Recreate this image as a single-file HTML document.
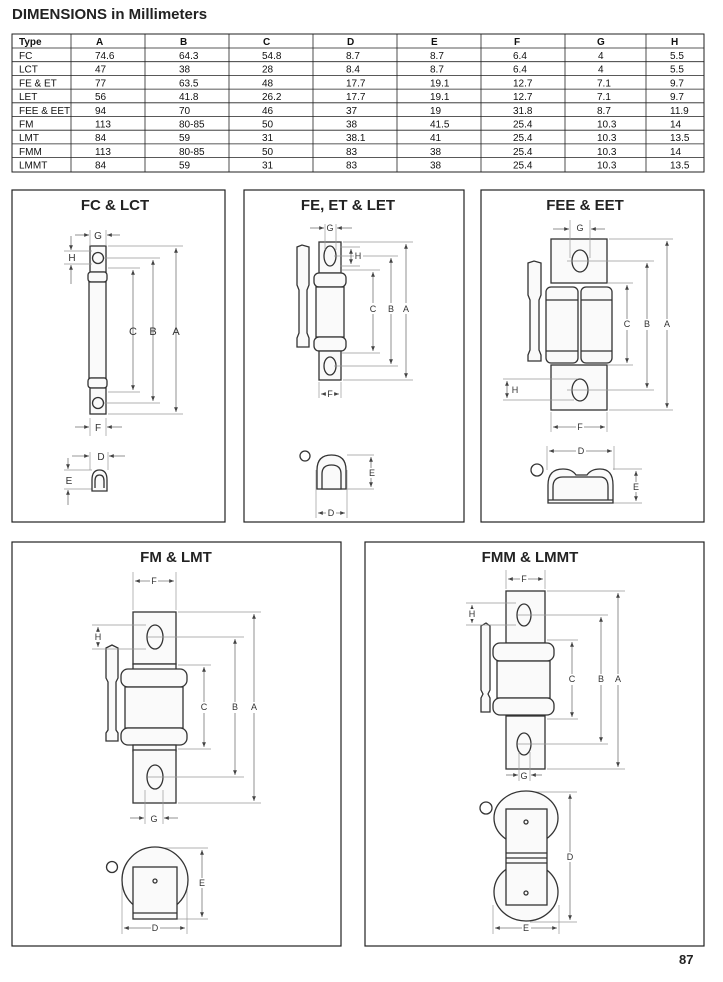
<!DOCTYPE html>
<html><head><meta charset="utf-8"><style>
html,body{margin:0;padding:0;background:#fff;}
svg{display:block;}
text{font-family:"Liberation Sans",sans-serif;}
.t{font-size:10px;fill:#111;}
.d{stroke:#777;stroke-width:0.8;fill:none;}
.e{stroke:#999;stroke-width:0.7;fill:none;}
.o{stroke:#333;stroke-width:1.3;fill:#fafafa;}
.o2{stroke:#333;stroke-width:1.3;fill:none;}
.l{font-size:9px;fill:#333;text-anchor:middle;}
.h{font-size:15px;font-weight:bold;fill:#222;text-anchor:middle;}
.box{stroke:#222;stroke-width:1.2;fill:none;}
.g{stroke:#222;stroke-width:0.8;}
</style></head><body>
<svg width="723" height="982" viewBox="0 0 723 982" xmlns="http://www.w3.org/2000/svg">
<defs>
<marker id="a" viewBox="0 0 10 10" refX="10" refY="5" markerWidth="6" markerHeight="6" orient="auto-start-reverse"><path d="M0,1 L10,5 L0,9z" fill="#444"/></marker>
</defs>
<text x="12" y="19" style="font-size:15px;font-weight:bold;fill:#222">DIMENSIONS in Millimeters</text>
<!-- table -->
<g>
<rect x="12" y="34" width="692" height="138" fill="none" stroke="#222" stroke-width="1"/>
<g class="g">
<line x1="71" y1="34" x2="71" y2="172"/><line x1="145" y1="34" x2="145" y2="172"/><line x1="229" y1="34" x2="229" y2="172"/><line x1="313" y1="34" x2="313" y2="172"/><line x1="397" y1="34" x2="397" y2="172"/><line x1="481" y1="34" x2="481" y2="172"/><line x1="565" y1="34" x2="565" y2="172"/><line x1="646" y1="34" x2="646" y2="172"/>
<line x1="12" y1="48" x2="704" y2="48"/><line x1="12" y1="61.7" x2="704" y2="61.7"/><line x1="12" y1="75.4" x2="704" y2="75.4"/><line x1="12" y1="89.1" x2="704" y2="89.1"/><line x1="12" y1="102.8" x2="704" y2="102.8"/><line x1="12" y1="116.5" x2="704" y2="116.5"/><line x1="12" y1="130.2" x2="704" y2="130.2"/><line x1="12" y1="143.9" x2="704" y2="143.9"/><line x1="12" y1="157.6" x2="704" y2="157.6"/>
</g>
<g class="t">
<text x="19" y="45" font-weight="bold">Type</text><text x="96" y="45" font-weight="bold">A</text><text x="180" y="45" font-weight="bold">B</text><text x="263" y="45" font-weight="bold">C</text><text x="347" y="45" font-weight="bold">D</text><text x="431" y="45" font-weight="bold">E</text><text x="514" y="45" font-weight="bold">F</text><text x="597" y="45" font-weight="bold">G</text><text x="671" y="45" font-weight="bold">H</text>
</g>
<g class="t" id="rows">
<text y="59"><tspan x="19">FC</tspan><tspan x="95">74.6</tspan><tspan x="179">64.3</tspan><tspan x="262">54.8</tspan><tspan x="346">8.7</tspan><tspan x="430">8.7</tspan><tspan x="513">6.4</tspan><tspan x="598">4</tspan><tspan x="670">5.5</tspan></text>
<text y="72.7"><tspan x="19">LCT</tspan><tspan x="95">47</tspan><tspan x="179">38</tspan><tspan x="262">28</tspan><tspan x="346">8.4</tspan><tspan x="430">8.7</tspan><tspan x="513">6.4</tspan><tspan x="598">4</tspan><tspan x="670">5.5</tspan></text>
<text y="86.4"><tspan x="19">FE &amp; ET</tspan><tspan x="95">77</tspan><tspan x="179">63.5</tspan><tspan x="262">48</tspan><tspan x="346">17.7</tspan><tspan x="430">19.1</tspan><tspan x="513">12.7</tspan><tspan x="597">7.1</tspan><tspan x="670">9.7</tspan></text>
<text y="100.1"><tspan x="19">LET</tspan><tspan x="95">56</tspan><tspan x="179">41.8</tspan><tspan x="262">26.2</tspan><tspan x="346">17.7</tspan><tspan x="430">19.1</tspan><tspan x="513">12.7</tspan><tspan x="597">7.1</tspan><tspan x="670">9.7</tspan></text>
<text y="113.8"><tspan x="19">FEE &amp; EET</tspan><tspan x="95">94</tspan><tspan x="179">70</tspan><tspan x="262">46</tspan><tspan x="346">37</tspan><tspan x="430">19</tspan><tspan x="513">31.8</tspan><tspan x="597">8.7</tspan><tspan x="670">11.9</tspan></text>
<text y="127.5"><tspan x="19">FM</tspan><tspan x="95">113</tspan><tspan x="179">80-85</tspan><tspan x="262">50</tspan><tspan x="346">38</tspan><tspan x="430">41.5</tspan><tspan x="513">25.4</tspan><tspan x="597">10.3</tspan><tspan x="670">14</tspan></text>
<text y="141.2"><tspan x="19">LMT</tspan><tspan x="95">84</tspan><tspan x="179">59</tspan><tspan x="262">31</tspan><tspan x="346">38.1</tspan><tspan x="430">41</tspan><tspan x="513">25.4</tspan><tspan x="597">10.3</tspan><tspan x="670">13.5</tspan></text>
<text y="154.9"><tspan x="19">FMM</tspan><tspan x="95">113</tspan><tspan x="179">80-85</tspan><tspan x="262">50</tspan><tspan x="346">83</tspan><tspan x="430">38</tspan><tspan x="513">25.4</tspan><tspan x="597">10.3</tspan><tspan x="670">14</tspan></text>
<text y="168.6"><tspan x="19">LMMT</tspan><tspan x="95">84</tspan><tspan x="179">59</tspan><tspan x="262">31</tspan><tspan x="346">83</tspan><tspan x="430">38</tspan><tspan x="513">25.4</tspan><tspan x="597">10.3</tspan><tspan x="670">13.5</tspan></text>
</g>
</g>

<!-- panel boxes -->
<rect class="box" x="12" y="190" width="213" height="332"/>
<rect class="box" x="244" y="190" width="220" height="332"/>
<rect class="box" x="481" y="190" width="223" height="332"/>
<rect class="box" x="12" y="542" width="329" height="404"/>
<rect class="box" x="365" y="542" width="339" height="404"/>
<text class="h" x="115" y="210">FC &amp; LCT</text>
<text class="h" x="348" y="210">FE, ET &amp; LET</text>
<text class="h" x="585" y="210">FEE &amp; EET</text>
<text class="h" x="176" y="562">FM &amp; LMT</text>
<text class="h" x="530" y="562">FMM &amp; LMMT</text>

<!-- FC & LCT -->
<g>
<rect class="o" x="90" y="246" width="16" height="26"/>
<circle class="o2" cx="98" cy="258" r="5.5"/>
<rect class="o" x="88" y="272" width="19" height="10" rx="3"/>
<rect class="o" x="89" y="282" width="17" height="96"/>
<rect class="o" x="88" y="378" width="19" height="10" rx="3"/>
<rect class="o" x="90" y="388" width="16" height="26"/>
<circle class="o2" cx="98" cy="403" r="5.5"/>
<g class="e"><line x1="108" y1="246" x2="183" y2="246"/><line x1="104" y1="258" x2="160" y2="258"/><line x1="108" y1="268" x2="140" y2="268"/><line x1="108" y1="392" x2="140" y2="392"/><line x1="104" y1="403" x2="160" y2="403"/><line x1="108" y1="414" x2="183" y2="414"/>
<line x1="90" y1="230" x2="90" y2="246"/><line x1="106" y1="230" x2="106" y2="246"/><line x1="64" y1="251" x2="92" y2="251"/><line x1="64" y1="264" x2="92" y2="264"/>
<line x1="90" y1="418" x2="90" y2="436"/><line x1="106" y1="418" x2="106" y2="436"/>
<line x1="90" y1="452" x2="90" y2="470"/><line x1="108" y1="452" x2="108" y2="470"/><line x1="64" y1="470" x2="92" y2="470"/><line x1="64" y1="489" x2="92" y2="489"/></g>
<g class="d"><line x1="176" y1="248" x2="176" y2="412" marker-start="url(#a)" marker-end="url(#a)"/>
<line x1="153" y1="260" x2="153" y2="401" marker-start="url(#a)" marker-end="url(#a)"/>
<line x1="133" y1="270" x2="133" y2="390" marker-start="url(#a)" marker-end="url(#a)"/>
<line x1="75" y1="235" x2="89" y2="235" marker-end="url(#a)"/><line x1="120" y1="235" x2="107" y2="235" marker-end="url(#a)"/>
<line x1="71" y1="236" x2="71" y2="250" marker-end="url(#a)"/><line x1="71" y1="284" x2="71" y2="265" marker-end="url(#a)"/>
<line x1="75" y1="427" x2="89" y2="427" marker-end="url(#a)"/><line x1="122" y1="427" x2="107" y2="427" marker-end="url(#a)"/>
<line x1="72" y1="456" x2="89" y2="456" marker-end="url(#a)"/><line x1="125" y1="456" x2="109" y2="456" marker-end="url(#a)"/>
<line x1="68" y1="458" x2="68" y2="469" marker-end="url(#a)"/><line x1="68" y1="505" x2="68" y2="490" marker-end="url(#a)"/></g>
<text class="l" x="98" y="239" style="font-size:10px">G</text>
<text class="l" x="72" y="261" style="font-size:10px">H</text>
<text class="l" x="133" y="335" style="font-size:11px">C</text><text class="l" x="153" y="335" style="font-size:11px">B</text><text class="l" x="176" y="335" style="font-size:11px">A</text>
<text class="l" x="98" y="431" style="font-size:10px">F</text>
<text class="l" x="101" y="460" style="font-size:10px">D</text>
<text class="l" x="69" y="484" style="font-size:10px">E</text>
<path class="o" d="M92,491 L92,480 Q92,470 99.5,470 Q107,470 107,480 L107,491 Z"/>
<path class="o2" d="M95,488 L95,481 Q95,475 99.5,475 Q104,475 104,481 L104,488"/>
</g>

<!-- FE, ET & LET -->
<g>
<rect class="o" x="319" y="242" width="22" height="31"/>
<ellipse class="o2" cx="330" cy="256" rx="6" ry="10"/>
<rect class="o" x="314" y="273" width="32" height="14" rx="5"/>
<rect class="o" x="316" y="287" width="28" height="50"/>
<rect class="o" x="314" y="337" width="32" height="14" rx="5"/>
<rect class="o" x="319" y="351" width="22" height="29"/>
<ellipse class="o2" cx="330" cy="366" rx="6" ry="9"/>
<path class="o" d="M297,247 L302,245 L309,247 L309,285 L307,290 L307,333 L309,338 L309,347 L297,347 L297,338 L299,333 L299,290 L297,285 Z"/>
<g class="e"><line x1="343" y1="242" x2="413" y2="242"/><line x1="334" y1="256" x2="398" y2="256"/><line x1="342" y1="270" x2="380" y2="270"/><line x1="342" y1="353" x2="380" y2="353"/><line x1="334" y1="366" x2="398" y2="366"/><line x1="343" y1="380" x2="413" y2="380"/>
<line x1="325" y1="224" x2="325" y2="250"/><line x1="336" y1="224" x2="336" y2="250"/><line x1="340" y1="247" x2="360" y2="247"/><line x1="340" y1="266" x2="360" y2="266"/>
<line x1="319" y1="382" x2="319" y2="398"/><line x1="341" y1="382" x2="341" y2="398"/>
<line x1="347" y1="455" x2="374" y2="455"/><line x1="347" y1="489" x2="374" y2="489"/><line x1="316" y1="470" x2="316" y2="518"/><line x1="347" y1="470" x2="347" y2="518"/></g>
<g class="d"><line x1="406" y1="244" x2="406" y2="378" marker-start="url(#a)" marker-end="url(#a)"/>
<line x1="391" y1="258" x2="391" y2="364" marker-start="url(#a)" marker-end="url(#a)"/>
<line x1="373" y1="272" x2="373" y2="351" marker-start="url(#a)" marker-end="url(#a)"/>
<line x1="310" y1="228" x2="324" y2="228" marker-end="url(#a)"/><line x1="352" y1="228" x2="337" y2="228" marker-end="url(#a)"/>
<line x1="351" y1="249" x2="351" y2="264" marker-start="url(#a)" marker-end="url(#a)"/>
<line x1="321" y1="394" x2="339" y2="394" marker-start="url(#a)" marker-end="url(#a)"/>
<line x1="371" y1="457" x2="371" y2="487" marker-start="url(#a)" marker-end="url(#a)"/>
<line x1="318" y1="513" x2="345" y2="513" marker-start="url(#a)" marker-end="url(#a)"/></g>
<g style="font-size:9px">
<rect x="326" y="222" width="9" height="10" fill="#fff"/><text class="l" x="330" y="231">G</text>
<rect x="354" y="251" width="9" height="10" fill="#fff"/><text class="l" x="358" y="259">H</text>
<rect x="369" y="303" width="9" height="11" fill="#fff"/><text class="l" x="373" y="312">C</text>
<rect x="387" y="303" width="9" height="11" fill="#fff"/><text class="l" x="391" y="312">B</text>
<rect x="402" y="303" width="9" height="11" fill="#fff"/><text class="l" x="406" y="312">A</text>
<rect x="326" y="389" width="8" height="10" fill="#fff"/><text class="l" x="330" y="397">F</text>
<rect x="367" y="468" width="9" height="10" fill="#fff"/><text class="l" x="372" y="476">E</text>
<rect x="326" y="508" width="10" height="10" fill="#fff"/><text class="l" x="331" y="516">D</text>
</g>
<circle class="o2" cx="305" cy="456" r="5"/>
<path class="o" d="M317,489 L317,470 Q317,455 331.5,455 Q346,455 346,470 L346,489 Z"/>
<path class="o" d="M322,489 L322,474 Q322,465 331.5,465 Q341,465 341,474 L341,489 Z"/>
</g>

<!-- FEE & EET -->
<g>
<rect class="o" x="551" y="239" width="56" height="44"/>
<ellipse class="o2" cx="580" cy="261" rx="8" ry="11"/>
<rect class="o" x="546" y="287" width="32" height="76" rx="5"/>
<rect class="o" x="581" y="287" width="31" height="76" rx="5"/>
<path class="o2" d="M546,300 L578,300 M581,300 L612,300 M546,351 L578,351 M581,351 L612,351"/>
<rect class="o" x="551" y="365" width="56" height="45"/>
<ellipse class="o2" cx="580" cy="390" rx="8" ry="11"/>
<path class="o" d="M528,263 L534,261 L541,263 L541,295 L539,300 L539,350 L541,355 L541,361 L528,361 L528,355 L530,350 L530,300 L528,295 Z"/>
<g class="e"><line x1="609" y1="239" x2="673" y2="239"/><line x1="567" y1="261" x2="654" y2="261"/><line x1="608" y1="283" x2="633" y2="283"/><line x1="608" y1="365" x2="633" y2="365"/><line x1="567" y1="390" x2="654" y2="390"/><line x1="609" y1="410" x2="673" y2="410"/>
<line x1="570" y1="220" x2="570" y2="258"/><line x1="590" y1="220" x2="590" y2="258"/>
<line x1="503" y1="379" x2="578" y2="379"/><line x1="503" y1="400" x2="574" y2="400"/>
<line x1="551" y1="412" x2="551" y2="432"/><line x1="607" y1="412" x2="607" y2="432"/>
<line x1="547" y1="446" x2="547" y2="470"/><line x1="614" y1="446" x2="614" y2="470"/>
<line x1="613" y1="469" x2="642" y2="469"/><line x1="613" y1="503" x2="642" y2="503"/></g>
<g class="d"><line x1="667" y1="241" x2="667" y2="408" marker-start="url(#a)" marker-end="url(#a)"/>
<line x1="647" y1="263" x2="647" y2="388" marker-start="url(#a)" marker-end="url(#a)"/>
<line x1="627" y1="285" x2="627" y2="363" marker-start="url(#a)" marker-end="url(#a)"/>
<line x1="553" y1="229" x2="569" y2="229" marker-end="url(#a)"/><line x1="605" y1="229" x2="591" y2="229" marker-end="url(#a)"/>
<line x1="507" y1="381" x2="507" y2="398" marker-start="url(#a)" marker-end="url(#a)"/>
<line x1="553" y1="427" x2="605" y2="427" marker-start="url(#a)" marker-end="url(#a)"/>
<line x1="549" y1="451" x2="612" y2="451" marker-start="url(#a)" marker-end="url(#a)"/>
<line x1="636" y1="471" x2="636" y2="501" marker-start="url(#a)" marker-end="url(#a)"/></g>
<g style="font-size:9px">
<rect x="576" y="223" width="9" height="10" fill="#fff"/><text class="l" x="580" y="231">G</text>
<rect x="511" y="385" width="9" height="10" fill="#fff"/><text class="l" x="515" y="393">H</text>
<rect x="623" y="319" width="9" height="11" fill="#fff"/><text class="l" x="627" y="327">C</text>
<rect x="643" y="319" width="9" height="11" fill="#fff"/><text class="l" x="647" y="327">B</text>
<rect x="663" y="319" width="9" height="11" fill="#fff"/><text class="l" x="667" y="327">A</text>
<rect x="576" y="422" width="8" height="10" fill="#fff"/><text class="l" x="580" y="430">F</text>
<rect x="576" y="446" width="10" height="10" fill="#fff"/><text class="l" x="581" y="454">D</text>
<rect x="632" y="482" width="9" height="10" fill="#fff"/><text class="l" x="636" y="490">E</text>
</g>
<circle class="o2" cx="537" cy="470" r="6"/>
<path class="o" d="M548,503 L548,485 Q548,469 563,469 Q572,469 576,475 L587,475 Q591,469 600,469 Q613,469 613,485 L613,503 Z"/>
<path class="o2" d="M553,500 L553,487 Q553,477 563,477 L600,477 Q608,477 608,487 L608,500 M548,500 L613,500"/>
</g>

<!-- FM & LMT -->
<g>
<rect class="o" x="133" y="612" width="43" height="52"/>
<ellipse class="o2" cx="155" cy="637" rx="8" ry="12"/>
<rect class="o" x="133" y="664" width="43" height="6"/>
<rect class="o" x="121" y="669" width="66" height="18" rx="7"/>
<rect class="o" x="125" y="687" width="58" height="41"/>
<rect class="o" x="121" y="728" width="66" height="17" rx="7"/>
<rect class="o" x="133" y="745" width="43" height="6"/>
<rect class="o" x="133" y="750" width="43" height="53"/>
<ellipse class="o2" cx="155" cy="777" rx="8" ry="12"/>
<path class="o" d="M106,648 L112,645 L118,648 L118,678 L116,682 L116,730 L118,733 L118,741 L106,741 L106,733 L108,730 L108,682 L106,678 Z"/>
<g class="e"><line x1="133" y1="572" x2="133" y2="610"/><line x1="176" y1="572" x2="176" y2="610"/>
<line x1="178" y1="612" x2="261" y2="612"/><line x1="148" y1="637" x2="244" y2="637"/><line x1="178" y1="665" x2="211" y2="665"/><line x1="178" y1="749" x2="211" y2="749"/><line x1="148" y1="777" x2="244" y2="777"/><line x1="178" y1="803" x2="261" y2="803"/>
<line x1="92" y1="625" x2="146" y2="625"/><line x1="92" y1="649" x2="146" y2="649"/>
<line x1="145" y1="790" x2="145" y2="824"/><line x1="163" y1="790" x2="163" y2="824"/>
<line x1="165" y1="848" x2="208" y2="848"/><line x1="177" y1="919" x2="208" y2="919"/>
<line x1="122" y1="883" x2="122" y2="934"/><line x1="187" y1="880" x2="187" y2="934"/></g>
<g class="d"><line x1="254" y1="614" x2="254" y2="801" marker-start="url(#a)" marker-end="url(#a)"/>
<line x1="235" y1="639" x2="235" y2="775" marker-start="url(#a)" marker-end="url(#a)"/>
<line x1="204" y1="667" x2="204" y2="747" marker-start="url(#a)" marker-end="url(#a)"/>
<line x1="135" y1="581" x2="174" y2="581" marker-start="url(#a)" marker-end="url(#a)"/>
<line x1="98" y1="627" x2="98" y2="647" marker-start="url(#a)" marker-end="url(#a)"/>
<line x1="130" y1="818" x2="144" y2="818" marker-end="url(#a)"/><line x1="178" y1="818" x2="164" y2="818" marker-end="url(#a)"/>
<line x1="202" y1="850" x2="202" y2="917" marker-start="url(#a)" marker-end="url(#a)"/>
<line x1="124" y1="928" x2="185" y2="928" marker-start="url(#a)" marker-end="url(#a)"/></g>
<g style="font-size:9px">
<rect x="150" y="576" width="8" height="10" fill="#fff"/><text class="l" x="154" y="584">F</text>
<rect x="94" y="632" width="9" height="10" fill="#fff"/><text class="l" x="98" y="640">H</text>
<rect x="200" y="702" width="9" height="11" fill="#fff"/><text class="l" x="204" y="710">C</text>
<rect x="231" y="702" width="9" height="11" fill="#fff"/><text class="l" x="235" y="710">B</text>
<rect x="250" y="702" width="9" height="11" fill="#fff"/><text class="l" x="254" y="710">A</text>
<text class="l" x="154" y="822">G</text>
<rect x="198" y="878" width="9" height="10" fill="#fff"/><text class="l" x="202" y="886">E</text>
<rect x="151" y="923" width="9" height="10" fill="#fff"/><text class="l" x="155" y="931">D</text>
</g>
<circle class="o2" cx="112" cy="867" r="5.5"/>
<ellipse class="o" cx="155" cy="880" rx="33" ry="33"/>
<rect class="o" x="133" y="867" width="44" height="52"/>
<line class="o2" x1="133" y1="913" x2="177" y2="913"/>
<circle class="o2" cx="155" cy="881" r="2"/>
</g>

<!-- FMM & LMMT -->
<g>
<rect class="o" x="506" y="591" width="39" height="52"/>
<ellipse class="o2" cx="524" cy="615" rx="7" ry="11"/>
<rect class="o" x="493" y="643" width="61" height="18" rx="7"/>
<rect class="o" x="497" y="661" width="53" height="37"/>
<rect class="o" x="493" y="698" width="61" height="17" rx="7"/>
<rect class="o" x="506" y="716" width="39" height="53"/>
<ellipse class="o2" cx="524" cy="744" rx="7" ry="11"/>
<path class="o" d="M481,626 L486,623 L490,626 L490,690 L488,694 L490,698 L490,712 L481,712 L481,698 L483,694 L481,690 Z"/>
<g class="e"><line x1="506" y1="570" x2="506" y2="589"/><line x1="545" y1="570" x2="545" y2="589"/>
<line x1="547" y1="591" x2="625" y2="591"/><line x1="518" y1="615" x2="608" y2="615"/><line x1="547" y1="640" x2="578" y2="640"/><line x1="547" y1="719" x2="578" y2="719"/><line x1="518" y1="744" x2="608" y2="744"/><line x1="547" y1="769" x2="625" y2="769"/>
<line x1="466" y1="603" x2="516" y2="603"/><line x1="466" y1="625" x2="516" y2="625"/>
<line x1="519" y1="752" x2="519" y2="781"/><line x1="530" y1="752" x2="530" y2="781"/>
<line x1="530" y1="792" x2="577" y2="792"/><line x1="530" y1="922" x2="577" y2="922"/>
<line x1="493" y1="905" x2="493" y2="934"/><line x1="559" y1="905" x2="559" y2="934"/></g>
<g class="d"><line x1="618" y1="593" x2="618" y2="767" marker-start="url(#a)" marker-end="url(#a)"/>
<line x1="601" y1="617" x2="601" y2="742" marker-start="url(#a)" marker-end="url(#a)"/>
<line x1="572" y1="642" x2="572" y2="717" marker-start="url(#a)" marker-end="url(#a)"/>
<line x1="508" y1="579" x2="543" y2="579" marker-start="url(#a)" marker-end="url(#a)"/>
<line x1="472" y1="605" x2="472" y2="623" marker-start="url(#a)" marker-end="url(#a)"/>
<line x1="506" y1="775" x2="518" y2="775" marker-end="url(#a)"/><line x1="542" y1="775" x2="531" y2="775" marker-end="url(#a)"/>
<line x1="570" y1="794" x2="570" y2="920" marker-start="url(#a)" marker-end="url(#a)"/>
<line x1="495" y1="928" x2="557" y2="928" marker-start="url(#a)" marker-end="url(#a)"/></g>
<g style="font-size:9px">
<rect x="520" y="574" width="8" height="10" fill="#fff"/><text class="l" x="524" y="582">F</text>
<rect x="468" y="609" width="9" height="10" fill="#fff"/><text class="l" x="472" y="617">H</text>
<rect x="568" y="674" width="9" height="11" fill="#fff"/><text class="l" x="572" y="682">C</text>
<rect x="597" y="674" width="9" height="11" fill="#fff"/><text class="l" x="601" y="682">B</text>
<rect x="614" y="674" width="9" height="11" fill="#fff"/><text class="l" x="618" y="682">A</text>
<text class="l" x="524" y="779">G</text>
<rect x="566" y="852" width="9" height="10" fill="#fff"/><text class="l" x="570" y="860">D</text>
<rect x="522" y="923" width="9" height="10" fill="#fff"/><text class="l" x="526" y="931">E</text>
</g>
<circle class="o2" cx="486" cy="808" r="6"/>
<ellipse class="o" cx="526" cy="818" rx="32" ry="27"/>
<ellipse class="o" cx="526" cy="892" rx="32" ry="29"/>
<rect class="o" x="506" y="809" width="41" height="96"/>
<path class="o2" d="M506,853 L547,853 M506,858 L547,858 M506,863 L547,863"/>
<circle class="o2" cx="526" cy="822" r="2"/>
<circle class="o2" cx="526" cy="893" r="2"/>
</g>

<text x="679" y="964" style="font-size:13px;font-weight:bold;fill:#222">87</text>
</svg>
</body></html>
